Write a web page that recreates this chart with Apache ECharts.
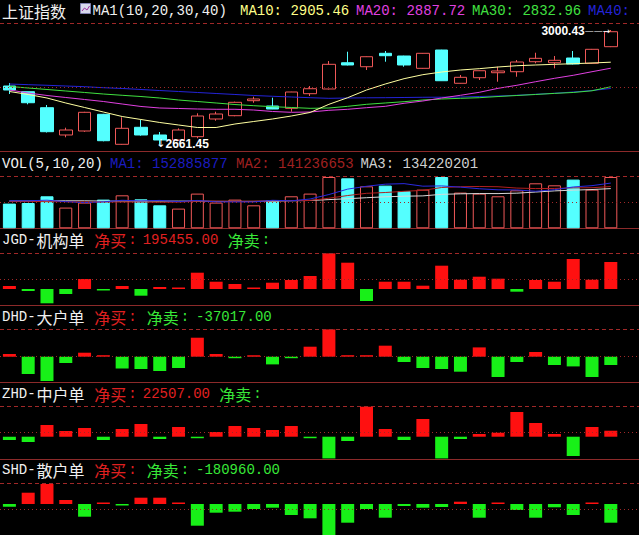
<!DOCTYPE html>
<html><head><meta charset="utf-8">
<script src="https://cdn.jsdelivr.net/npm/echarts@6/dist/echarts.min.js"></script>
<style>html,body{margin:0;padding:0;background:#000;}#c{width:639px;height:535px;}</style>
</head><body><div id="c"></div>
<script>
// ---------- data ----------
const categories = ['1','2','3','4','5','6','7','8','9','10','11','12','13','14','15','16','17','18','19','20','21','22','23','24','25','26','27','28','29','30','31','32','33'];
const open  = [2835.2,2818.4,2771.2,2690.7,2702.5,2751.7,2663.2,2713.4,2690.7,2675.9,2685.7,2737.9,2747.6,2791.9,2776.2,2769.4,2812.5,2826.4,2903.9,2892.1,2931.7,2923.7,2887.4,2941.4,2843.2,2859.7,2874.4,2877.4,2906.9,2903.9,2917.8,2902.2,2951.2];
const close = [2823.4,2785.9,2700.4,2705.4,2757.6,2673.8,2710.4,2690.7,2675.9,2705.4,2746.7,2752.6,2787.1,2796.9,2767.3,2817.5,2827.2,2899.2,2897.2,2921.6,2924.6,2897.2,2931.7,2850.8,2860.9,2880.3,2879.5,2906.0,2916.9,2911.0,2900.1,2943.5,2995.4];
const low   = [2811.6,2781.2,2698.0,2683.9,2700.0,2672.0,2662.0,2688.6,2661.45,2673.0,2681.0,2732.9,2746.0,2785.9,2767.0,2759.4,2805.7,2825.0,2896.0,2882.4,2906.9,2892.1,2886.5,2850.0,2842.5,2852.9,2847.9,2862.6,2902.2,2887.4,2899.0,2901.0,2950.0];
const high  = [2844.1,2818.4,2779.2,2712.2,2759.0,2753.0,2742.9,2734.9,2699.5,2710.3,2754.7,2759.4,2789.0,2803.7,2800.7,2818.0,2835.2,2908.9,2936.4,2922.5,2938.5,2924.5,2932.5,2942.0,2867.7,2881.0,2892.1,2911.9,2933.4,2923.7,2938.5,2944.5,3000.43];
const ma10 = [2819.0,2810.2,2799.8,2785.1,2771.8,2758.5,2745.2,2736.4,2727.6,2720.2,2712.8,2712.8,2723.1,2730.5,2737.9,2746.7,2757.1,2781.2,2800.7,2823.4,2841.1,2856.8,2868.6,2876.5,2882.4,2886.3,2891.3,2895.1,2897.2,2899.2,2901.0,2903.1,2905.46];
const ma20 = [2823.4,2814.6,2807.2,2801.3,2795.4,2789.5,2782.1,2774.8,2770.3,2768.9,2767.4,2766.5,2766.5,2764.4,2760.0,2757.6,2758.5,2763.5,2766.5,2771.2,2775.3,2784.2,2791.0,2799.8,2807.8,2816.6,2828.4,2837.3,2847.9,2857.9,2866.8,2877.4,2887.72];
const ma30 = [2833.8,2829.3,2824.9,2820.5,2816.1,2811.6,2807.8,2804.2,2799.8,2793.9,2789.5,2785.1,2780.6,2777.1,2774.2,2771.8,2769.4,2770.3,2775.3,2781.2,2785.1,2788.9,2793.9,2796.9,2798.9,2800.7,2804.2,2807.2,2810.2,2813.4,2816.1,2821.1,2832.96];
const ma40 = [2841.1,2839.1,2837.3,2835.2,2833.2,2830.2,2827.9,2824.9,2821.9,2819.0,2816.1,2813.1,2810.2,2807.2,2804.9,2802.8,2800.7,2798.9,2799.8,2800.4,2800.7,2801.3,2801.9,2802.2,2802.8,2804.2,2805.7,2807.8,2810.8,2813.7,2817.5,2821.9,2827.9];
// volume in millions of shares
const volume  = [83.5,85.5,108.2,70.0,86.9,97.0,111.5,98.0,77.7,66.6,117.3,86.9,97.0,77.7,94.6,108.2,117.3,173.4,169.0,142.0,144.3,126.1,130.8,173.4,120.7,117.3,108.2,128.4,152.1,145.3,164.6,130.8,173.4];
const volMa5  = [93,93,95,90,86.8,89.5,94.7,92.7,94.2,90.2,94.2,89.3,89.1,89.1,94.7,92.9,99.0,114.2,132.5,142.0,149.2,151.0,142.4,143.3,139.1,133.7,130.1,129.6,125.3,130.3,139.7,144.2,152.885877];
const volMa10 = [91,91,90,90,89,89,89,89,88,88.5,91.9,92.0,90.9,91.7,92.4,93.6,94.1,101.7,110.8,118.3,121.0,125.0,128.3,137.9,140.5,141.4,140.5,136.0,134.3,134.7,136.7,137.2,141.236653];
const volMa20 = [92,92,93,93,93,92,92,92,92,92,92,91,91,91,92,93,94,97,100,103.4,106.5,108.5,109.6,114.8,116.5,117.5,117.3,118.8,122.6,126.5,128.9,131.1,134.220201];
const jgd = [21700,-14500,-103500,-36200,72400,-7200,21700,-48500,14500,5000,118000,52800,36200,7200,45600,65200,94100,258000,190400,-86900,52800,52800,23900,168700,67300,89000,74600,-19500,65200,52800,217200,67300,195455];
const dhd = [12000,-77200,-108400,-28100,17800,4500,-52200,-54900,-63800,-50400,84700,12000,-4500,3100,-34300,-4500,44600,121800,6700,6700,49100,-23600,-50400,-54900,-66900,41500,-90500,-23600,21000,-37000,-43300,-90500,-37017];
const zhd = [-12400,-19900,43900,21400,32600,-12400,28900,47600,-8600,36400,-3800,17600,40100,32600,25100,40100,-3800,-81400,-16100,112500,28900,-12400,66400,-81400,-8600,10100,15000,92600,51400,10100,-72400,36400,22507];
const shd = [-26100,109300,193500,38700,-122900,12600,-9700,61000,61000,12600,-210000,-84200,-74500,-48400,-35800,-106400,-138400,-300000,-181000,-48400,-132600,-19400,-35800,-29000,22300,-132600,12600,-58100,-132600,-31900,-106400,9700,-180960];

// ---------- layout / style ----------
const RED = '#f05858', CYAN = '#54ffff', BAR_RED = '#ff1010', BAR_GREEN = '#18f018';
const GUIDE = '#a02828', SEP = '#8c2a2a';
const panels = [
  {top:23.3,  height:128.4, min:2641.4,  max:3020.2},
  {top:176,   height:52.3,  min:0,       max:176.8},
  {top:253.3, height:52.4,  min:-120900, max:258400},
  {top:329.3, height:53,    min:-114200, max:122200},
  {top:406,   height:53,    min:-83600,  max:115200},
  {top:483.3, height:51.7,  min:-300000, max:200300}
];
const xData = categories.concat(['']);
const grid = panels.map(p => ({left:-2.6, width:652.5, top:p.top, height:p.height}));
const xAxis = panels.map((p,i) => ({type:'category', gridIndex:i, data:xData, boundaryGap:true,
  axisLine:{show:i<5, onZero:false, lineStyle:{color:SEP, width:1}}, axisTick:{show:false},
  axisLabel:{show:false}, splitLine:{show:false}}));
const yAxis = panels.map((p,i) => ({type:'value', gridIndex:i, min:p.min, max:p.max, show:false, splitLine:{show:false}}));

function guides(p){
  return {silent:true, symbol:['none','none'], label:{show:false}, animation:false, emphasis:{disabled:true},
    data:[{yAxis:p.max, lineStyle:{color:GUIDE, type:[4,3], width:1}},
          {yAxis:(p.min+p.max)/2, lineStyle:{color:GUIDE, type:[1,3], width:1}}]};
}
function maLine(data, color, xi){
  return {type:'line', xAxisIndex:xi, yAxisIndex:xi, data, symbol:'none', showSymbol:false, silent:true,
    lineStyle:{color, width:1}, itemStyle:{color}, emphasis:{disabled:true}, z:3};
}
function flowBars(data, idx){
  return {type:'bar', xAxisIndex:idx, yAxisIndex:idx, data, barWidth:13, barMinHeight:1.5, clip:false, silent:true,
    itemStyle:{color: p => p.value >= 0 ? BAR_RED : BAR_GREEN}, emphasis:{disabled:true}, markLine:guides(panels[idx])};
}
const isUp = open.map((o,i) => close[i] >= o);

const series = [
  {type:'candlestick', xAxisIndex:0, yAxisIndex:0, data: open.map((o,i)=>[o, close[i], low[i], high[i]]),
   barWidth:13, clip:false, silent:true, emphasis:{disabled:true},
   itemStyle:{color:'transparent', color0:CYAN, borderColor:RED, borderColor0:CYAN, borderWidth:1},
   markLine:guides(panels[0]),
   markPoint:{symbol:'circle', symbolSize:1, silent:true, animation:false, itemStyle:{color:'rgba(0,0,0,0)'},
     data:[
      {type:'max', valueDim:'highest', label:{show:true, position:'left', distance:0, offset:[0,1],
        formatter: p => '{v|' + Number(p.value).toFixed(2) + '}{a|——→}',
        rich:{v:{color:'#ffffff', fontWeight:'bold', fontSize:12, fontFamily:'"Liberation Sans", Arial'},
              a:{color:'#ffffff', fontSize:9, fontFamily:'"DejaVu Sans"'}}}},
      {type:'min', valueDim:'lowest', label:{show:true, position:'right', distance:0, offset:[-4,-1],
        formatter: p => '{a|↓}{v|' + Number(p.value).toFixed(2) + '}',
        rich:{v:{color:'#ffffff', fontWeight:'bold', fontSize:12, fontFamily:'"Liberation Sans", Arial'},
              a:{color:'#ffffff', fontSize:11, fontFamily:'"DejaVu Sans"'}}}}
     ]}},
  maLine(ma40, '#2424d8', 0),
  maLine(ma30, '#40e040', 0),
  maLine(ma20, '#e040e0', 0),
  maLine(ma10, '#ffffa0', 0),
  {type:'bar', xAxisIndex:1, yAxisIndex:1, barWidth:13, clip:false, silent:true, emphasis:{disabled:true},
   data: volume.map((v,i) => ({value:v, itemStyle: isUp[i]
      ? {color:'transparent', borderColor:RED, borderWidth:1}
      : {color:CYAN, borderColor:CYAN, borderWidth:1}})),
   markLine:guides(panels[1])},
  maLine(volMa20, '#d8d8d8', 1),
  maLine(volMa10, '#b02020', 1),
  maLine(volMa5, '#2a2ae0', 1),
  flowBars(jgd, 2),
  flowBars(dhd, 3),
  flowBars(zhd, 4),
  flowBars(shd, 5)
];

// ---------- header texts ----------
const MONO = '14px "Liberation Mono", "DejaVu Sans Mono", monospace';
const CJK = '16px "Noto Sans CJK SC", sans-serif';
const WHITE = '#f0f0f0', TXT_RED = '#e02020', TXT_GREEN = '#38e838';
function t(x, y, text, fill, font, align){
  align = align || 'left';
  return {type:'text', x, y, silent:true, z:100,
    style:{text, fill, font, textAlign:align, align, textVerticalAlign:'middle', verticalAlign:'middle'}};
}
const last = a => a[a.length-1];
const fmt2 = v => v.toFixed(2);
const fmtVol = v => String(Math.round(v*1e6));

const texts = [
  t(2, 11, '上证指数', WHITE, CJK),
  t(92.5, 10.5, 'MA1(10,20,30,40)', WHITE, MONO),
  t(240, 10.5, 'MA10: ' + fmt2(last(ma10)), '#ffff88', MONO),
  t(356, 10.5, 'MA20: ' + fmt2(last(ma20)), '#e040e0', MONO),
  t(472, 10.5, 'MA30: ' + fmt2(last(ma30)), '#40e040', MONO),
  t(588, 10.5, 'MA40:', '#2424d8', MONO),

  t(2, 163.7, 'VOL(5,10,20)', WHITE, MONO),
  t(110, 163.7, 'MA1: ' + fmtVol(last(volMa5)), '#1c1cc0', MONO),
  t(236, 163.7, 'MA2: ' + fmtVol(last(volMa10)), '#a02020', MONO),
  t(360.5, 163.7, 'MA3: ' + fmtVol(last(volMa20)), '#d0d0d0', MONO)
];
const flowRows = [
  {y:240, code:'JGD-', name:'机构单', data:jgd, buyEnd:218.3, sellX:227.7},
  {y:317, code:'DHD-', name:'大户单', data:dhd, buyEnd:null,  sellX:146.7, sellEnd:271.7},
  {y:394, code:'ZHD-', name:'中户单', data:zhd, buyEnd:210,   sellX:219.3},
  {y:470, code:'SHD-', name:'散户单', data:shd, buyEnd:null,  sellX:146.7, sellEnd:280}
];
flowRows.forEach(r => {
  const v = last(r.data);
  texts.push(t(2, r.y, r.code, WHITE, MONO));
  texts.push(t(36.5, r.y, r.name, WHITE, CJK));
  texts.push(t(94.3, r.y, '净买', TXT_RED, CJK));
  texts.push(t(128.3, r.y, ':', TXT_RED, MONO));
  if (v >= 0) texts.push(t(r.buyEnd, r.y, fmt2(v), TXT_RED, MONO, 'right'));
  texts.push(t(r.sellX, r.y, '净卖', TXT_GREEN, CJK));
  texts.push(t(r.sellX + 34, r.y, ':', TXT_GREEN, MONO));
  if (v < 0) texts.push(t(r.sellEnd, r.y, fmt2(v), TXT_GREEN, MONO, 'right'));
});
// small index icon
texts.push({type:'rect', silent:true, shape:{x:80.5, y:3.5, width:10, height:10},
  style:{fill:'#d8d8ec', stroke:'#8080b0', lineWidth:1}});
texts.push({type:'polyline', silent:true, shape:{points:[[82,11],[84.5,8],[87,10],[89.5,6]]},
  style:{stroke:'#a030a0', lineWidth:1, fill:null}});

const chart = echarts.init(document.getElementById('c'), null, {renderer:'svg', width:639, height:535});
chart.setOption({
  backgroundColor:'#000000',
  animation:false,
  tooltip:{show:false},
  grid, xAxis, yAxis, series,
  graphic:{elements:texts}
});
</script>
</body></html>
